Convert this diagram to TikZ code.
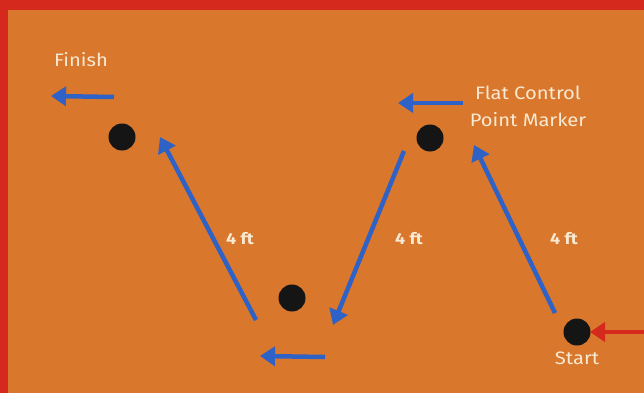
\documentclass[tikz,border=0pt]{standalone}
\usepackage{fontspec}
\setmainfont[FakeStretch=1.12]{Fira Sans}
\usetikzlibrary{arrows.meta}
\definecolor{bgorange}{HTML}{D9772C}
\definecolor{frame}{HTML}{D5291E}
\definecolor{arrowblue}{HTML}{2F62C6}
\definecolor{dotblack}{HTML}{151515}
\definecolor{cream}{HTML}{F8E9D2}
\begin{document}
\begin{tikzpicture}[x=1pt,y=-1pt,
  marker/.style={circle,fill=dotblack,draw=none,minimum size=27pt,inner sep=0pt},
  move/.style={draw=arrowblue,line width=4.5pt,-{Triangle[length=15pt,width=19pt]}},
  startarrow/.style={draw=frame,line width=4.5pt,-{Triangle[length=15pt,width=19pt]}},
  label/.style={text=cream,inner sep=0pt,font=\fontsize{18}{27}\selectfont},
  dist/.style={text=cream,inner sep=0pt,font=\fontsize{16}{18}\selectfont\bfseries}]
\useasboundingbox (0,0) rectangle (644,393);
\fill[frame] (0,0) rectangle (644,393);
\fill[bgorange] (8,10) rectangle (644,393);
% markers
\node[marker] (m1) at (122,137) {};
\node[marker] (m2) at (292,298) {};
\node[marker] (m3) at (430,138) {};
\node[marker] (m4) at (577,332) {};
% labels
\node[label] (finish) at (81,60) {Finish};
\node[label,align=center] (flat) at (528,106) {Flat Control\\Point Marker};
\node[label] (start) at (577,358) {Start};
\node[dist] (d1) at (240,239) {4 ft};
\node[dist] (d2) at (409,239) {4 ft};
\node[dist] (d3) at (564,239) {4 ft};
% arrow endpoints
\coordinate (f0) at (114,97);  \coordinate (f1) at (51,96);
\coordinate (a0) at (256,320); \coordinate (a1) at (160,137);
\coordinate (b0) at (325,357); \coordinate (b1) at (260,356);
\coordinate (c0) at (404,151); \coordinate (c1) at (333,325);
\coordinate (e0) at (463,103); \coordinate (e1) at (398,103);
\coordinate (g0) at (555,313); \coordinate (g1) at (474,145);
\coordinate (r0) at (646,332); \coordinate (r1) at (590,332);
% arrows
\draw[move] (f0) -- (f1);
\draw[move] (a0) -- (a1);
\draw[move] (b0) -- (b1);
\draw[move] (c0) -- (c1);
\draw[move] (e0) -- (e1);
\draw[move] (g0) -- (g1);
\draw[startarrow] (r0) -- (r1);
\end{tikzpicture}
\end{document}
